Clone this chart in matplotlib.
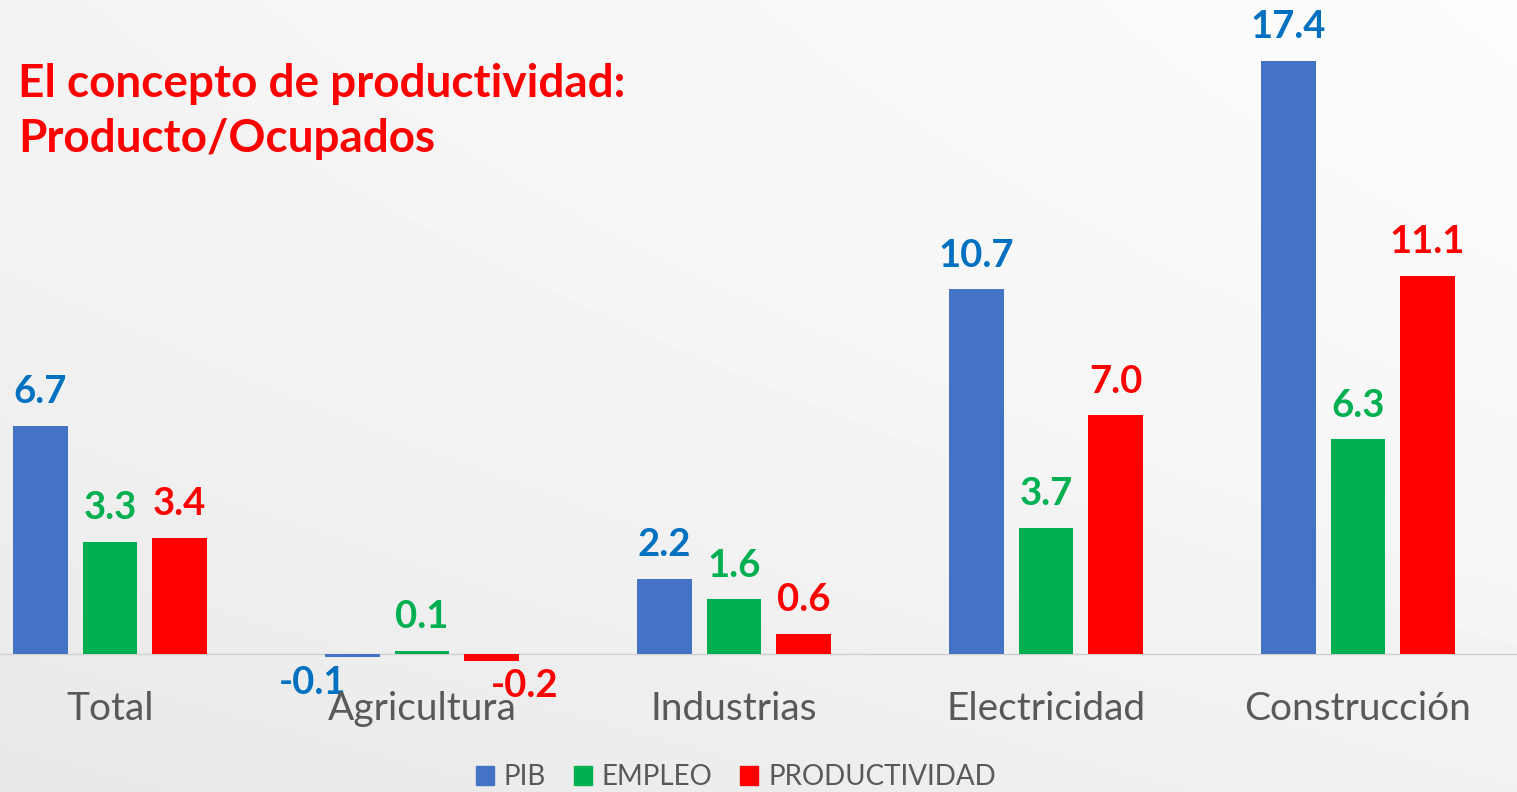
import numpy as np
import matplotlib.pyplot as plt
from matplotlib.patches import Patch

plt.rcParams['font.family'] = ['Lato', 'DejaVu Sans']

# Data
categories = ["Total", "Agricultura", "Industrias", "Electricidad", "Construcción"]
series = ["PIB", "EMPLEO", "PRODUCTIVIDAD"]
pib = [6.7, -0.1, 2.2, 10.7, 17.4]
empleo = [3.3, 0.1, 1.6, 3.7, 6.3]
productividad = [3.4, -0.2, 0.6, 7.0, 11.1]

bar_colors = ["#4472C4", "#00B050", "#FF0000"]
label_colors = ["#0070C0", "#00B050", "#FF0000"]

W, H = 1517, 792
fig = plt.figure(figsize=(W / 100, H / 100), dpi=100)

# soft gray gradient background
bg = fig.add_axes([0, 0, 1, 1])
xx, yy = np.meshgrid(np.linspace(0, 1, 300), np.linspace(0, 1, 200))
shade = 0.935 + 0.035 * xx + 0.02 * yy - 0.025 * (1 - yy) ** 2
bg.imshow(shade, cmap="gray", vmin=0, vmax=1, extent=[0, 1, 0, 1],
          origin="lower", aspect="auto", interpolation="bicubic")
bg.axis("off")

ax = fig.add_axes([0, 0, 1, 1])
ax.set_facecolor("none")
px_per_unit = 593 / 17.4
ax.set_xlim(-110 / 312, (W - 110) / 312)
ax.set_ylim(-(H - 654) / px_per_unit, 654 / px_per_unit)
ax.axis("off")

x = np.arange(len(categories))
width = 0.176
step = 0.223
# small sideways nudge Excel gives the crowded negative labels (points)
neg_shift = {0: -29, 2: 24}
for k, vals in enumerate([pib, empleo, productividad]):
    pos = x + (k - 1) * step
    ax.bar(pos, vals, width, color=bar_colors[k], zorder=3)
    for p, v in zip(pos, vals):
        if v >= 0:
            ax.annotate(f"{v:.1f}", (p, v), xytext=(0, 12), textcoords="offset points",
                        ha="center", va="bottom", fontsize=27.5, fontweight="bold",
                        color=label_colors[k])
        else:
            ax.annotate(f"{v:.1f}", (p, v), xytext=(neg_shift.get(k, 0), -6),
                        textcoords="offset points", ha="center", va="top",
                        fontsize=27.5, fontweight="bold", color=label_colors[k])

ax.axhline(0, color="#D0D0D0", lw=1, zorder=2)

for i, c in enumerate(categories):
    ax.text(i, -(709 - 654) / px_per_unit, c, ha="center", va="center",
            fontsize=28, color="#595959")

fig.text(18 / W, 1 - 97 / H, "El concepto de productividad:", color="#FF0000",
         fontsize=33, fontweight="bold", va="baseline")
fig.text(18 / W, 1 - 152 / H, "Producto/Ocupados", color="#FF0000",
         fontsize=33, fontweight="bold", va="baseline")

handles = [Patch(color=c, label=s) for c, s in zip(bar_colors, series)]
leg = fig.legend(handles=handles, loc="center", bbox_to_anchor=(736 / W, 1 - 777 / H),
                 ncol=3, frameon=False, fontsize=20, handlelength=0.65, handleheight=0.65,
                 handletextpad=0.35, columnspacing=1.0)
for t in leg.get_texts():
    t.set_color("#595959")

fig.savefig("out.png", dpi=100)
